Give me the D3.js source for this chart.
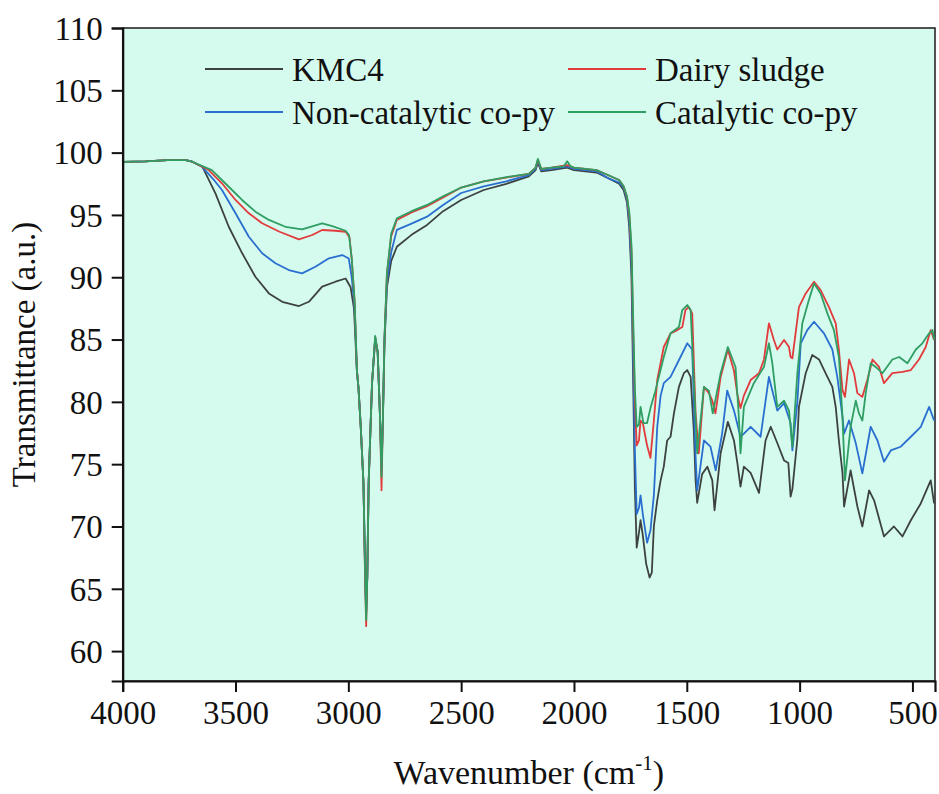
<!DOCTYPE html>
<html>
<head>
<meta charset="utf-8">
<script src="https://cdn.jsdelivr.net/npm/d3@7"></script>
<style>
  html, body { margin: 0; padding: 0; background: #fff; }
  svg { display: block; }
  text { font-family: "Liberation Serif", "Times New Roman", serif; fill: #111; }
</style>
</head>
<body>
<svg id="chart" width="939" height="794"></svg>
<script>
// FTIR spectra: [wavenumber (cm-1), transmittance (a.u.)]
const kmc4 = [[4000,99.25],[3900,99.3],[3800,99.4],[3720,99.4],[3692,99.27],[3647,98.87],[3589,96.73],[3530,94.05],[3471,91.94],[3412,90.04],[3352,88.7],[3293,88.03],[3219,87.69],[3175,88.03],[3116,89.24],[3057,89.64],[3012,89.9],[2990,89.2],[2975,87.5],[2962,82.5],[2955,81.1],[2945,78],[2933,73.5],[2926,67],[2921,63.2],[2916,66],[2910,73.5],[2895,81.5],[2881,85.0],[2870,84],[2860,79],[2853,74.8],[2847,78.5],[2840,84.5],[2829,89.2],[2810,91.3],[2785,92.45],[2720,93.4],[2651,94.2],[2580,95.3],[2500,96.2],[2400,97.0],[2300,97.5],[2200,98.1],[2170,98.6],[2160,99.2],[2145,98.5],[2100,98.6],[2030,98.8],[2000,98.6],[1900,98.4],[1850,97.96],[1800,97.5],[1780,97.0],[1765,96.0],[1755,94],[1745,90],[1738,82],[1730,73],[1722,68.3],[1712,69.5],[1705,70.5],[1695,69.3],[1680,67],[1665,65.9],[1655,66.3],[1646,70],[1631,72.1],[1616,73.7],[1602,74.8],[1587,76.9],[1572,77.2],[1557,79.07],[1535,81.2],[1513,82.3],[1498,82.55],[1483,82],[1469,77.7],[1461,73.7],[1454,71.9],[1432,74.2],[1409,74.8],[1387,73.7],[1377,71.3],[1350,75.9],[1318,78.4],[1291,76.9],[1276,75.1],[1262,73.2],[1247,74.8],[1217,74.3],[1180,72.7],[1151,76.9],[1128,78.0],[1099,76.7],[1069,75.3],[1050,75.1],[1040,72.4],[1032,73.0],[1010,77],[1003,79.6],[973,82.3],[944,83.76],[914,83.4],[885,82.3],[855,81.2],[840,79.6],[826,76.9],[810,74.3],[803,71.6],[774,74.5],[744,71.6],[722,70],[692,72.9],[670,72.1],[626,69.2],[582,70],[544,69.2],[507,70.5],[463,71.85],[419,73.7],[404,71.85]];

const dairySludge = [[4000,99.25],[3900,99.3],[3800,99.4],[3720,99.4],[3692,99.27],[3619,98.6],[3560,97.54],[3500,96.2],[3441,95.13],[3382,94.33],[3305,93.65],[3219,93.04],[3160,93.39],[3116,93.79],[3057,93.73],[3012,93.65],[2995,93.2],[2985,91.5],[2972,88],[2962,82.5],[2955,81.1],[2945,78],[2933,73.5],[2926,66],[2921,62.0],[2916,66],[2910,73.5],[2895,81.5],[2881,85.2],[2870,84],[2860,79],[2853,72.9],[2847,78.5],[2840,85],[2829,90.3],[2810,93.3],[2785,94.6],[2720,95.2],[2651,95.7],[2580,96.4],[2500,97.2],[2400,97.7],[2300,98.0],[2200,98.3],[2170,98.8],[2160,99.4],[2145,98.7],[2100,98.8],[2030,99.0],[2000,98.8],[1900,98.6],[1850,98.2],[1800,97.8],[1780,97.3],[1765,96.4],[1755,95],[1745,92],[1738,86],[1730,80],[1722,76.5],[1712,76.9],[1705,78.5],[1695,78.3],[1676,76.5],[1661,75.5],[1646,78.5],[1631,81.75],[1602,84.4],[1572,85.5],[1542,85.76],[1520,86.0],[1506,87.37],[1491,87.6],[1476,87.1],[1461,79.07],[1447,75.87],[1424,81.2],[1402,80.7],[1387,80.1],[1373,79.07],[1350,82],[1318,84.2],[1291,82.5],[1276,80.6],[1262,79.5],[1247,80.5],[1217,81.75],[1180,82.3],[1158,83.4],[1136,86.3],[1114,84.96],[1099,84.2],[1069,84.96],[1047,84.4],[1040,83.6],[1032,83.5],[1003,87.6],[973,88.7],[936,89.64],[907,88.97],[870,87.6],[840,86.3],[826,84.2],[810,80.94],[799,80.4],[781,83.4],[759,82.3],[744,80.7],[722,80.4],[700,81.75],[677,83.4],[648,82.8],[626,81.5],[589,82.3],[544,82.4],[507,82.55],[471,83.4],[441,84.4],[419,85.76],[404,84.96]];

const nonCatalytic = [[4000,99.25],[3900,99.3],[3800,99.4],[3720,99.4],[3692,99.27],[3650,98.9],[3600,97.9],[3560,97.0],[3500,95.13],[3441,93.25],[3382,91.92],[3323,91.12],[3264,90.58],[3205,90.31],[3146,90.84],[3086,91.52],[3027,91.78],[2998,91.5],[2985,90],[2972,87.5],[2962,82.5],[2955,81.1],[2945,78],[2933,73.5],[2926,66.5],[2921,62.9],[2916,66],[2910,73.5],[2895,81.5],[2881,85.1],[2870,84],[2860,79],[2853,74.5],[2847,78.5],[2840,85],[2829,89.6],[2810,92],[2785,93.8],[2720,94.3],[2651,94.86],[2580,95.8],[2500,96.76],[2400,97.3],[2300,97.7],[2200,98.2],[2170,98.7],[2160,99.3],[2145,98.6],[2100,98.7],[2030,98.9],[2000,98.7],[1900,98.5],[1850,97.96],[1800,97.6],[1780,97.2],[1765,96.2],[1755,94.5],[1745,91],[1738,84],[1730,76],[1722,71],[1712,71.5],[1705,72.5],[1695,71],[1676,68.7],[1661,69.7],[1646,72.5],[1639,75],[1631,78],[1616,80.5],[1602,81.5],[1572,82.0],[1528,83.6],[1498,84.7],[1476,84.2],[1469,80],[1461,75.6],[1454,72.9],[1424,76.9],[1395,76.4],[1372,74.5],[1343,77.5],[1321,80.9],[1291,79.3],[1262,77.2],[1247,77.45],[1217,78.0],[1173,77.2],[1136,82.0],[1099,79.3],[1069,79.9],[1040,78.3],[1032,76.1],[1010,80],[995,84.7],[966,85.76],[936,86.43],[892,85.5],[855,84.2],[833,82.0],[810,78.8],[803,77.45],[781,78.5],[751,76.67],[722,74.26],[685,78.0],[655,76.9],[626,75.2],[596,76.1],[552,76.4],[507,77.2],[463,78.0],[426,79.6],[404,78.5]];

const catalytic = [[4000,99.25],[3900,99.3],[3800,99.4],[3720,99.4],[3692,99.27],[3605,98.6],[3530,97.26],[3471,96.2],[3412,95.26],[3352,94.6],[3279,94.05],[3205,93.84],[3116,94.33],[3071,94.1],[3012,93.73],[2997,93.39],[2985,91.5],[2972,88],[2962,82.5],[2955,81.1],[2945,78],[2933,73.5],[2926,66.5],[2921,62.5],[2916,66],[2910,73.5],[2895,81.5],[2881,85.3],[2870,84],[2860,79],[2853,74],[2847,78.5],[2840,85],[2829,90.3],[2810,93.5],[2785,94.73],[2720,95.3],[2651,95.8],[2580,96.5],[2500,97.2],[2400,97.7],[2300,98.04],[2200,98.3],[2170,98.8],[2160,99.5],[2145,98.7],[2100,98.8],[2045,98.9],[2030,99.3],[2015,98.9],[2000,98.8],[1900,98.6],[1850,98.2],[1800,97.8],[1780,97.3],[1765,96.5],[1755,95.2],[1745,92.5],[1738,87],[1730,81],[1722,78],[1712,78.2],[1705,79.6],[1692,78.3],[1676,78.3],[1661,79.5],[1639,80.9],[1602,83.6],[1572,85.5],[1535,86.0],[1520,87.37],[1498,87.77],[1483,87.37],[1469,81.75],[1454,75.87],[1424,81.2],[1402,80.9],[1385,79.07],[1350,82.3],[1318,84.4],[1284,82.8],[1270,79],[1262,75.87],[1247,79.6],[1203,81.5],[1158,82.8],[1136,84.7],[1121,83.1],[1099,79.6],[1069,80.1],[1047,79.3],[1032,76.4],[1010,82.3],[988,86.3],[959,88.17],[936,89.5],[907,88.7],[877,87.1],[848,85.76],[826,83.6],[810,78.8],[799,73.7],[774,78.0],[751,80.1],[737,79.07],[722,78.5],[707,80.7],[685,83.1],[663,82.8],[633,82.3],[589,83.4],[559,83.6],[522,83.1],[485,84.2],[456,84.7],[426,85.5],[411,85.76],[404,85]];

const seriesNames = ["KMC4", "Dairy sludge", "Non-catalytic co-py", "Catalytic co-py"];
const seriesColors = ["#3d4240", "#e23b3b", "#2a6fd0", "#2f9e63"];
const xTicks = [4000, 3500, 3000, 2500, 2000, 1500, 1000, 500];
const yTicks = [60, 65, 70, 75, 80, 85, 90, 95, 100, 105, 110];

const svg = d3.select("#chart");
const plotLeft = 122.7, plotRight = 935, plotTop = 28, plotBottom = 681;

const x = d3.scaleLinear().domain([4000, 400]).range([plotLeft, plotRight]);
const y = d3.scaleLinear().domain([57.6, 110]).range([plotBottom, plotTop]);

// plot background
svg.append("rect")
  .attr("x", plotLeft).attr("y", plotTop)
  .attr("width", plotRight - plotLeft).attr("height", plotBottom - plotTop)
  .attr("fill", "#d5fbef")
  .attr("stroke", "#1a1a1a").attr("stroke-width", 1.5);

svg.append("defs").append("clipPath").attr("id", "plotclip")
  .append("rect").attr("x", plotLeft).attr("y", plotTop)
  .attr("width", plotRight - plotLeft).attr("height", plotBottom - plotTop);

// spectra (drawn back to front)
const line = d3.line().x(d => x(d[0])).y(d => y(d[1]));
const order = [
  {data: kmc4, i: 0},
  {data: nonCatalytic, i: 2},
  {data: dairySludge, i: 1},
  {data: catalytic, i: 3}
];
const g = svg.append("g").attr("clip-path", "url(#plotclip)");
order.forEach(s => {
  g.append("path")
    .datum(s.data)
    .attr("fill", "none")
    .attr("stroke", seriesColors[s.i])
    .attr("stroke-width", 1.8)
    .attr("stroke-linejoin", "round")
    .attr("d", line);
});

// axes
const xAxis = d3.axisBottom(x).tickValues(xTicks).tickSize(11).tickPadding(9).tickFormat(d3.format("d"));
const yAxis = d3.axisLeft(y).tickValues(yTicks).tickSize(11).tickPadding(9).tickFormat(d3.format("d"));

const gx = svg.append("g").attr("transform", `translate(0,${plotBottom})`).call(xAxis);
const gy = svg.append("g").attr("transform", `translate(${plotLeft},0)`).call(yAxis);
[gx, gy].forEach(a => {
  a.select(".domain").attr("stroke", "#111").attr("stroke-width", 2.2);
  a.selectAll(".tick line").attr("stroke", "#111").attr("stroke-width", 2);
  a.selectAll(".tick text")
    .attr("font-family", "'Liberation Serif', 'Times New Roman', serif")
    .attr("font-size", 33).attr("fill", "#111");
});
gy.selectAll(".tick text").attr("dy", "0.34em");

// axis titles
svg.append("text")
  .attr("transform", `translate(35,${(plotTop + plotBottom) / 2}) rotate(-90)`)
  .attr("text-anchor", "middle")
  .attr("font-size", 33)
  .text("Transmittance (a.u.)");

const xt = svg.append("text")
  .attr("x", (plotLeft + plotRight) / 2).attr("y", 784)
  .attr("text-anchor", "middle")
  .attr("font-size", 34);
xt.append("tspan").text("Wavenumber (cm");
xt.append("tspan").attr("font-size", 21).attr("dy", -14).text("-1");
xt.append("tspan").attr("dy", 14).text(")");

// legend
const legendItems = [
  {i: 0, lx: 205, ly: 69},
  {i: 1, lx: 568, ly: 69},
  {i: 2, lx: 205, ly: 112},
  {i: 3, lx: 568, ly: 112}
];
const lg = svg.append("g");
legendItems.forEach(it => {
  lg.append("line")
    .attr("x1", it.lx).attr("x2", it.lx + 78)
    .attr("y1", it.ly).attr("y2", it.ly)
    .attr("stroke", seriesColors[it.i]).attr("stroke-width", 2);
  lg.append("text")
    .attr("x", it.lx + 87).attr("y", it.ly + 12)
    .attr("font-size", 33)
    .text(seriesNames[it.i]);
});
</script>
</body>
</html>
